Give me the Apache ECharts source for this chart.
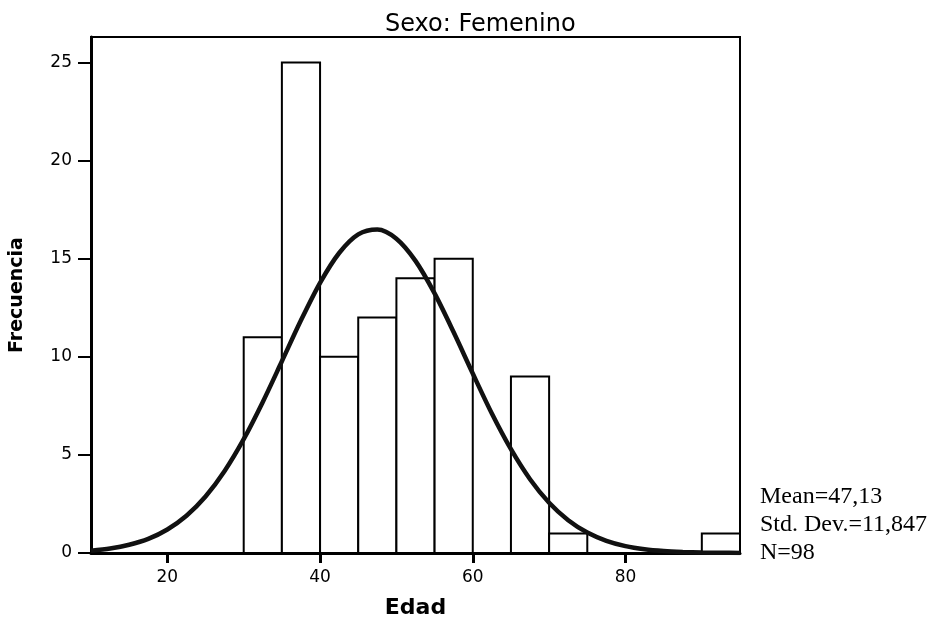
<!DOCTYPE html>
<html>
<head>
<meta charset="utf-8">
<script src="https://cdn.jsdelivr.net/npm/echarts@6/dist/echarts.min.js"></script>
<style>
  html, body { margin: 0; padding: 0; background: #fff; }
  #hist { width: 931px; height: 624px; }
</style>
</head>
<body>
<div id="hist"></div>
<script>
// histogram bins (Edad), 5 years wide
var binStart = [30, 35, 40, 45, 50, 55, 60, 65, 70, 75, 80, 85, 90];
var binCount = [11, 25, 10, 12, 14, 15, 0, 9, 1, 0, 0, 0, 1];
var binWidth = 5;

// normal curve, every 2.5 years
var curveX = [10, 12.5, 15, 17.5, 20, 22.5, 25, 27.5, 30, 32.5, 35, 37.5, 40, 42.5, 45, 47.5,
              50, 52.5, 55, 57.5, 60, 62.5, 65, 67.5, 70, 72.5, 75, 77.5, 80, 82.5, 85, 87.5, 90, 92.5, 95];
var curveY = [0.12, 0.23, 0.42, 0.72, 1.2, 1.9, 2.88, 4.18, 5.8, 7.7, 9.77, 11.86, 13.77, 15.29, 16.24, 16.49,
              16.02, 14.89, 13.23, 11.25, 9.15, 7.11, 5.29, 3.76, 2.56, 1.67, 1.04, 0.62, 0.35, 0.19, 0.1, 0.05, 0.02, 0.01, 0.005];

var xTicks = [20, 40, 60, 80];
var statsText = ['Mean=47,13', 'Std. Dev.=11,847', 'N=98'];

var dom = document.getElementById('hist');
var chart = echarts.init(dom);

var barData = [];
binStart.forEach(function (lo, i) {
  if (binCount[i] > 0) barData.push([lo, lo + binWidth, binCount[i]]);
});
var lineData = curveX.map(function (x, i) { return [x, curveY[i]]; });

var option = {
  animation: false,
  backgroundColor: '#fff',
  title: {
    text: 'Sexo: Femenino',
    left: 380,
    top: 8,
    textStyle: { fontFamily: 'DejaVu Sans', fontSize: 24, fontWeight: 'normal', color: '#000' }
  },
  grid: {
    left: 88, right: 191, top: 37, bottom: 59,
    show: true, borderColor: '#000', borderWidth: 2, backgroundColor: 'transparent'
  },
  xAxis: {
    type: 'value',
    min: 10,
    max: 95,
    name: 'Edad',
    nameLocation: 'middle',
    nameGap: 44,
    nameTextStyle: { fontFamily: 'DejaVu Sans', fontWeight: 'bold', fontSize: 22, color: '#000' },
    axisLine: { lineStyle: { color: '#000', width: 3 } },
    axisTick: { customValues: xTicks, length: 10, lineStyle: { color: '#000', width: 3 } },
    axisLabel: { customValues: xTicks, margin: 16, fontFamily: 'DejaVu Sans', fontSize: 17, color: '#000' },
    splitLine: { show: false }
  },
  yAxis: {
    type: 'value',
    min: 0,
    max: 26.3,
    interval: 5,
    name: 'Frecuencia',
    nameLocation: 'middle',
    nameGap: 64,
    nameTextStyle: { fontFamily: 'DejaVu Sans', fontWeight: 'bold', fontSize: 19, color: '#000' },
    axisLine: { show: true, lineStyle: { color: '#000', width: 3 } },
    axisTick: { show: true, length: 13, lineStyle: { color: '#000', width: 2 } },
    axisLabel: { showMaxLabel: false, margin: 19, fontFamily: 'DejaVu Sans', fontSize: 17, color: '#000' },
    splitLine: { show: false }
  },
  series: [
    {
      type: 'custom',
      data: barData,
      renderItem: function (params, api) {
        var p0 = api.coord([api.value(0), api.value(2)]);
        var p1 = api.coord([api.value(1), 0]);
        return {
          type: 'rect',
          shape: { x: p0[0], y: p0[1], width: p1[0] - p0[0], height: p1[1] - p0[1] },
          style: { fill: '#fff', stroke: '#000', lineWidth: 2 }
        };
      },
      z: 2
    },
    {
      type: 'line',
      data: lineData,
      smooth: 0.3,
      showSymbol: false,
      lineStyle: { color: '#111', width: 4.5 },
      z: 3
    }
  ],
  graphic: [
    {
      type: 'text',
      left: 760,
      top: 483,
      style: {
        text: statsText.join('\n'),
        font: '24px "Liberation Serif"',
        lineHeight: 28,
        fill: '#000'
      }
    }
  ]
};

chart.setOption(option);
</script>
</body>
</html>
